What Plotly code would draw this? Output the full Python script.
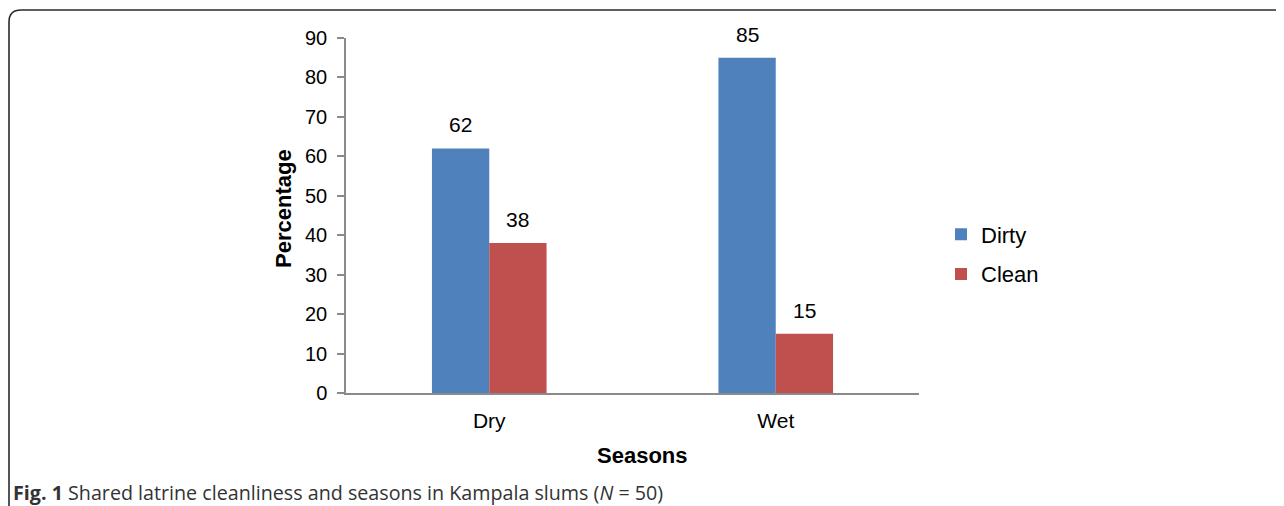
import plotly.graph_objects as go

seasons = ["Dry", "Wet"]
dirty = [62, 85]
clean = [38, 15]
y_ticks = [0, 10, 20, 30, 40, 50, 60, 70, 80, 90]

W, H = 1284, 506
OFF = 8  # page body margin
def px(x):
    return (x - OFF) / W
def py(y):
    return 1 - (y - OFF) / H

FONT = "Liberation Sans, Arial, Helvetica, sans-serif"

fig = go.Figure()
fig.add_trace(go.Bar(name="Dirty", x=seasons, y=dirty, marker_color="#4F81BD",
                     marker_line_width=0, legendgroup="a"))
fig.add_trace(go.Bar(name="Clean", x=seasons, y=clean, marker_color="#C0504D",
                     marker_line_width=0, legendgroup="b"))

# data labels
bar_w_px = 57
for vals, shift in ((dirty, -bar_w_px / 2), (clean, bar_w_px / 2)):
    for s, v in zip(seasons, vals):
        fig.add_annotation(x=s, y=v, text=str(v), showarrow=False, xref="x", yref="y",
                           yanchor="bottom", yshift=10, xshift=shift,
                           font=dict(family=FONT, size=21, color="#000"))

# axis titles
fig.add_annotation(x=px(284), y=py(209), xref="paper", yref="paper", text="<b>Percentage</b>",
                   xanchor="center", yanchor="middle",
                   textangle=-90, showarrow=False, font=dict(family=FONT, size=22, color="#000"))
fig.add_annotation(x=px(642), y=py(455), xref="paper", yref="paper", text="<b>Seasons</b>",
                   xanchor="center", yanchor="middle",
                   showarrow=False, font=dict(family=FONT, size=22, color="#000"))

# caption
fig.add_annotation(x=px(11), y=py(492), xref="paper", yref="paper", xanchor="left", yanchor="middle",
                   text="<b>Fig. 1</b> Shared latrine cleanliness and seasons in Kampala slums (<i>N</i> = 50)",
                   showarrow=False, font=dict(family="Open Sans, sans-serif", size=19.7, color="#333333"))

# frame
x0, x1 = px(9), px(21)
xr = px(1300)
yb, yc, yt = py(520), py(22), py(10)
fig.add_shape(type="path", xref="paper", yref="paper",
              path=f"M {x0},{yb} L {x0},{yc} Q {x0},{yt} {x1},{yt} L {xr},{yt}",
              line=dict(color="#2b2b2b", width=1.6))

fig.update_layout(
    width=W, height=H,
    margin=dict(l=0, r=0, t=0, b=0),
    paper_bgcolor="white", plot_bgcolor="white",
    barmode="group", bargap=0.6, bargroupgap=0,
    showlegend=True,
    legend=dict(x=px(941), y=py(254.5), xanchor="left", yanchor="middle",
                font=dict(family=FONT, size=22, color="#000"),
                traceorder="grouped", tracegroupgap=8, bgcolor="rgba(0,0,0,0)"),
    xaxis=dict(domain=[px(346), px(919)], showline=True, linecolor="#8a8a8a", linewidth=1.5,
               ticks="", tickfont=dict(family=FONT, size=21, color="#000"),
               ticklabelstandoff=8, automargin=False, showgrid=False),
    yaxis=dict(domain=[py(393), py(38)], range=[0, 90], tickvals=y_ticks,
               showline=True, linecolor="#8a8a8a", linewidth=1.5,
               ticks="outside", ticklen=7, tickcolor="#8a8a8a", tickwidth=1.5,
               tickfont=dict(family=FONT, size=20, color="#000"),
               ticklabelstandoff=6, automargin=False, showgrid=False, zeroline=False),
)

fig.write_html("out.html")
